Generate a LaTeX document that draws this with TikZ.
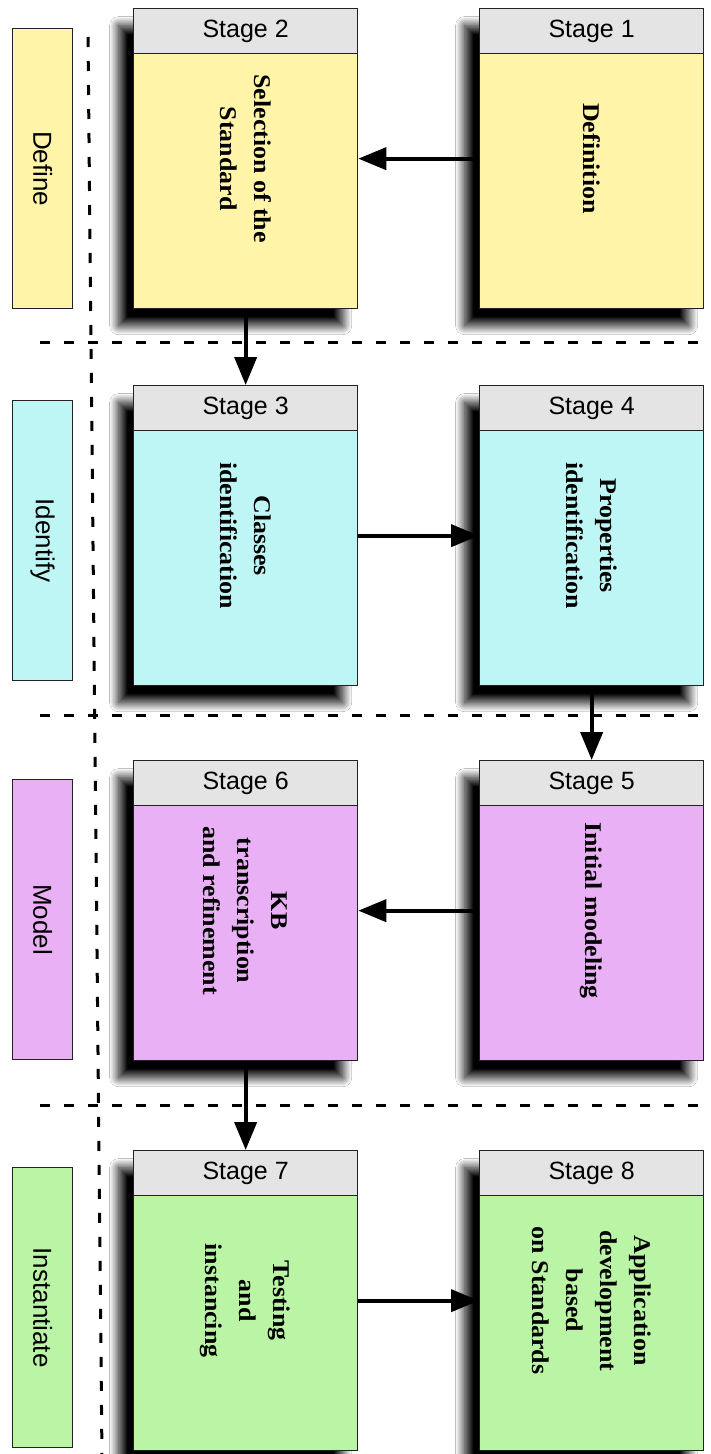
\documentclass[tikz,border=0pt]{standalone}
\usepackage{fontspec}
\setmainfont{Liberation Serif}
\newfontfamily\hdrfont{Liberation Sans}
\newfontfamily\bodyfont[FakeStretch=1.08]{Liberation Serif}
\usetikzlibrary{arrows.meta,shadows.blur}

\definecolor{cyel}{RGB}{255,244,168}
\definecolor{ccyan}{RGB}{190,245,245}
\definecolor{cpurp}{RGB}{234,176,245}
\definecolor{cgreen}{RGB}{185,245,165}
\definecolor{chead}{RGB}{228,228,228}
\definecolor{cline}{RGB}{34,34,34}

\tikzset{
  stagebox/.style={draw=cline, line width=1.3pt, minimum width=224pt, minimum height=300pt,
    inner sep=0pt, anchor=north west,
    blur shadow={shadow xshift=-15pt, shadow yshift=-17pt, shadow blur radius=9pt,
      shadow blur steps=30, shadow opacity=100}},
  headbox/.style={draw=cline, line width=1.3pt, fill=chead, minimum width=224pt, minimum height=45pt,
    inner sep=0pt, anchor=north, font=\hdrfont\fontsize{25}{30}\selectfont},
  bodytext/.style={rotate=-90, align=center, inner sep=0pt,
    font=\bodyfont\bfseries\fontsize{24}{34}\selectfont},
  phasebox/.style={draw=cline, line width=1.3pt, minimum width=60pt, minimum height=280pt,
    anchor=north west, inner sep=0pt},
  phasetext/.style={rotate=-90, inner sep=0pt, font=\hdrfont\fontsize{26}{31}\selectfont},
  flow/.style={line width=4pt, -{Triangle[length=28pt,width=22pt]}},
  sep/.style={line width=3pt, dash pattern=on 10pt off 14pt},
}

\begin{document}
\begin{tikzpicture}[x=1pt,y=1pt]
\useasboundingbox (0,0) rectangle (710,-1454);
\fill[white] (0,0) rectangle (710,-1454);

% separators
\coordinate (v1) at (88,-37);
\coordinate (v2) at (102,-1458);
\draw[sep] (v1) -- (v2);
\coordinate (h1a) at (40,-342);  \coordinate (h1b) at (712,-342);
\coordinate (h2a) at (40,-715);  \coordinate (h2b) at (712,-715);
\coordinate (h3a) at (40,-1105); \coordinate (h3b) at (712,-1105);
\draw[sep] (h1a) -- (h1b);
\draw[sep] (h2a) -- (h2b);
\draw[sep] (h3a) -- (h3b);

% phase labels
\node[phasebox, fill=cyel] (pdef) at (12,-28) {};
\node[phasetext] (pdeft) at (pdef.center) {Define};
\node[phasebox, fill=ccyan] (pid) at (12,-400) {};
\node[phasetext] (pidt) at (pid.center) {Identify};
\node[phasebox, fill=cpurp] (pmod) at (12,-779) {};
\node[phasetext] (pmodt) at (pmod.center) {Model};
\node[phasebox, fill=cgreen] (pins) at (12,-1167) {};
\node[phasetext] (pinst) at (pins.center) {Instantiate};

% stages
\node[stagebox, fill=cyel] (s2) at (133,-8) {};
\node[headbox] (s2h) at (s2.north) {Stage 2};
\node[bodytext] (s2t) at (s2.center) {Selection of the\\Standard};

\node[stagebox, fill=cyel] (s1) at (479,-8) {};
\node[headbox] (s1h) at (s1.north) {Stage 1};
\node[bodytext] (s1t) at (s1.center) {Definition};

\node[stagebox, fill=ccyan] (s3) at (133,-385) {};
\node[headbox] (s3h) at (s3.north) {Stage 3};
\node[bodytext] (s3t) at (s3.center) {Classes\\identification};

\node[stagebox, fill=ccyan] (s4) at (479,-385) {};
\node[headbox] (s4h) at (s4.north) {Stage 4};
\node[bodytext] (s4t) at (s4.center) {Properties\\identification};

\node[stagebox, fill=cpurp] (s6) at (133,-760) {};
\node[headbox] (s6h) at (s6.north) {Stage 6};
\node[bodytext] (s6t) at (s6.center) {KB\\transcription\\and refinement};

\node[stagebox, fill=cpurp] (s5) at (479,-760) {};
\node[headbox] (s5h) at (s5.north) {Stage 5};
\node[bodytext] (s5t) at (s5.center) {Initial modeling};

\node[stagebox, fill=cgreen] (s7) at (133,-1150) {};
\node[headbox] (s7h) at (s7.north) {Stage 7};
\node[bodytext] (s7t) at (s7.center) {Testing\\and\\instancing};

\node[stagebox, fill=cgreen] (s8) at (479,-1150) {};
\node[headbox] (s8h) at (s8.north) {Stage 8};
\node[bodytext] (s8t) at (s8.center) {Application\\development\\based\\on Standards};

% flow
\draw[flow] (s1.west) -- (s2.east);
\draw[flow] (s2.south) -- (s3.north);
\draw[flow] (s3.east) -- (s4.west);
\draw[flow] (s4.south) -- (s5.north);
\draw[flow] (s5.west) -- (s6.east);
\draw[flow] (s6.south) -- (s7.north);
\draw[flow] (s7.east) -- (s8.west);
\end{tikzpicture}
\end{document}
